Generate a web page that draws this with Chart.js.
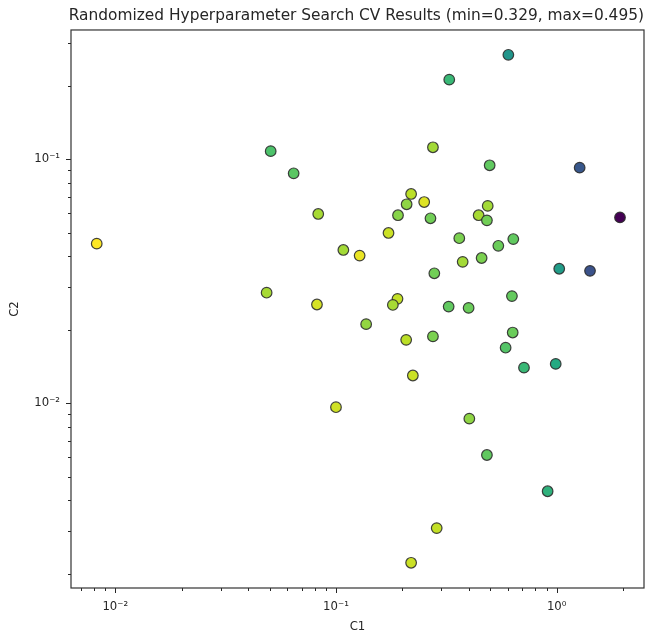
<!DOCTYPE html>
<html>
<head>
<meta charset="utf-8">
<title>Randomized Hyperparameter Search CV Results</title>
<script src="https://cdn.jsdelivr.net/npm/chart.js@4.4.1/dist/chart.umd.min.js"></script>
<style>
  html, body { margin: 0; padding: 0; background: #fff; }
  canvas { display: block; }
</style>
</head>
<body>
<canvas id="cv-chart" width="647" height="633"></canvas>
<script>
// sampled hyperparameters (log-uniform) and their mean CV score
const c1Values = [
  0.326, 0.604, 0.275, 0.497, 1.271, 0.0643, 0.0506, 0.0831, 0.219, 0.251,
  0.209, 0.191, 0.268, 0.487, 0.443, 0.483, 1.936, 0.173, 0.362, 0.636,
  0.544, 0.00824, 0.108, 0.128, 0.375, 0.457, 1.027, 1.416, 0.279, 0.0485,
  0.0820, 0.190, 0.181, 0.324, 0.399, 0.627, 0.137, 0.208, 0.275, 0.632,
  0.587, 0.711, 0.990, 0.223, 0.100, 0.402, 0.483, 0.910, 0.286, 0.219,
];
const c2Values = [
  0.212, 0.268, 0.112, 0.0945, 0.0924, 0.0876, 0.108, 0.0597, 0.0721, 0.0668,
  0.0654, 0.0590, 0.0573, 0.0644, 0.0590, 0.0562, 0.0578, 0.0499, 0.0475, 0.0471,
  0.0442, 0.0451, 0.0425, 0.0403, 0.0380, 0.0394, 0.0356, 0.0349, 0.0341, 0.0284,
  0.0254, 0.0268, 0.0253, 0.0249, 0.0246, 0.0275, 0.0211, 0.0182, 0.0188, 0.0195,
  0.0169, 0.0140, 0.0145, 0.0130, 0.00964, 0.00865, 0.00614, 0.00436, 0.00308, 0.00222,
];
const cvScores = [
  0.440, 0.415, 0.472, 0.454, 0.374, 0.452, 0.448, 0.473, 0.478, 0.487,
  0.467, 0.465, 0.459, 0.472, 0.473, 0.459, 0.329, 0.482, 0.462, 0.454,
  0.457, 0.495, 0.472, 0.490, 0.472, 0.462, 0.420, 0.371, 0.459, 0.473,
  0.485, 0.480, 0.473, 0.454, 0.457, 0.455, 0.468, 0.478, 0.462, 0.457,
  0.450, 0.440, 0.430, 0.482, 0.483, 0.467, 0.454, 0.435, 0.480, 0.482,
];
const scoreMin = 0.329;
const scoreMax = 0.495;

const xLimits = [0.0063, 2.487];
const yLimits = [0.00175, 0.3388];
const xTickValues = [0.01, 0.1, 1];
const xTickLabels = ["10⁻²", "10⁻¹", "10⁰"];
const yTickValues = [0.01, 0.1];
const yTickLabels = ["10⁻²", "10⁻¹"];

(function () {
  const FONT = "'DejaVu Sans', 'Liberation Sans', sans-serif";
  const INK = "#262626";

  const viridisStops = [
    "#440154", "#482475", "#414487", "#355f8d", "#2a788e", "#21918c",
    "#22a884", "#44bf70", "#7ad151", "#bddf26", "#fde725",
  ];

  function hexToRgb(h) {
    const n = parseInt(h.slice(1), 16);
    return [(n >> 16) & 255, (n >> 8) & 255, n & 255];
  }

  function viridis(t) {
    t = Math.min(1, Math.max(0, t));
    const pos = t * (viridisStops.length - 1);
    const i = Math.min(viridisStops.length - 2, Math.floor(pos));
    const f = pos - i;
    const a = hexToRgb(viridisStops[i]);
    const b = hexToRgb(viridisStops[i + 1]);
    const c = a.map((v, k) => Math.round(v + (b[k] - v) * f));
    return `rgb(${c[0]}, ${c[1]}, ${c[2]})`;
  }

  // 1..9 x 10^e inside the limits, like matplotlib's LogLocator with minor ticks
  function logTicks(min, max) {
    const ticks = [];
    for (let e = Math.floor(Math.log10(min)); e <= Math.ceil(Math.log10(max)); e++) {
      for (let k = 1; k <= 9; k++) {
        const v = parseFloat((k * Math.pow(10, e)).toPrecision(6));
        if (v >= min && v <= max) ticks.push({ value: v, major: k === 1 });
      }
    }
    return ticks;
  }

  function labelFor(values, labels, v) {
    const i = values.findIndex((t) => Math.abs(t - v) / t < 1e-6);
    return i >= 0 ? labels[i] : "";
  }

  function noScalePadding(scale) {
    scale.paddingLeft = 0;
    scale.paddingRight = 0;
    scale.paddingTop = 0;
    scale.paddingBottom = 0;
  }

  const points = c1Values.map((x, i) => ({ x, y: c2Values[i] }));
  const colors = cvScores.map((s) => viridis((s - scoreMin) / (scoreMax - scoreMin)));

  // matplotlib-style frame on all four sides plus major/minor tick marks
  const mplFrame = {
    id: "mplFrame",
    afterDatasetsDraw(chart) {
      const { ctx, chartArea: a, scales } = chart;
      ctx.save();
      ctx.strokeStyle = INK;
      ctx.lineWidth = 1;
      ctx.beginPath();
      scales.x.ticks.forEach((t) => {
        const px = Math.round(scales.x.getPixelForValue(t.value)) + 0.5;
        ctx.moveTo(px, a.bottom);
        ctx.lineTo(px, a.bottom + (t.major ? 5 : 3));
      });
      scales.y.ticks.forEach((t) => {
        const py = Math.round(scales.y.getPixelForValue(t.value)) + 0.5;
        ctx.moveTo(a.left, py);
        ctx.lineTo(a.left - (t.major ? 5 : 3), py);
      });
      ctx.stroke();
      ctx.lineWidth = 1.2;
      ctx.strokeStyle = "#333";
      ctx.strokeRect(a.left, a.top, a.right - a.left, a.bottom - a.top);
      ctx.restore();
    },
  };

  new Chart(document.getElementById("cv-chart").getContext("2d"), {
    type: "scatter",
    data: {
      datasets: [{
        data: points,
        backgroundColor: colors,
        borderColor: "rgba(45, 45, 45, 0.9)",
        borderWidth: 1.2,
        pointRadius: 5.3,
        pointHoverRadius: 5.3,
      }],
    },
    options: {
      responsive: false,
      animation: false,
      devicePixelRatio: 1,
      layout: { autoPadding: false, padding: { top: 0, right: 3, bottom: 0, left: 0 } },
      plugins: {
        legend: { display: false },
        tooltip: { enabled: false },
        title: {
          display: true,
          text: `Randomized Hyperparameter Search CV Results (min=${scoreMin.toFixed(3)}, max=${scoreMax.toFixed(3)})`,
          align: "end",
          color: INK,
          font: { family: FONT, size: 15.4, weight: "normal", lineHeight: 1.2 },
          padding: { top: 6.9, bottom: 4.6 },
        },
      },
      scales: {
        x: {
          type: "logarithmic",
          position: "bottom",
          min: xLimits[0],
          max: xLimits[1],
          afterBuildTicks: (scale) => { scale.ticks = logTicks(xLimits[0], xLimits[1]); },
          afterFit: (scale) => { scale.height = 45; noScalePadding(scale); },
          grid: { display: false, drawTicks: false },
          border: { display: false },
          ticks: {
            autoSkip: false,
            maxRotation: 0,
            minRotation: 0,
            padding: 12,
            color: INK,
            font: { family: FONT, size: 11.7 },
            callback: (v) => labelFor(xTickValues, xTickLabels, v),
          },
          title: {
            display: true,
            text: "C1",
            color: INK,
            font: { family: FONT, size: 11.7, lineHeight: 1 },
            padding: { top: 0, bottom: 0 },
          },
        },
        y: {
          type: "logarithmic",
          position: "left",
          min: yLimits[0],
          max: yLimits[1],
          afterBuildTicks: (scale) => { scale.ticks = logTicks(yLimits[0], yLimits[1]); },
          afterFit: (scale) => { scale.width = 71; noScalePadding(scale); },
          grid: { display: false, drawTicks: false },
          border: { display: false },
          ticks: {
            autoSkip: false,
            padding: 11,
            color: INK,
            font: { family: FONT, size: 11.7 },
            callback: (v) => labelFor(yTickValues, yTickLabels, v),
          },
          title: {
            display: true,
            text: "C2",
            color: INK,
            font: { family: FONT, size: 11.7, lineHeight: 1.2 },
            padding: { top: 7.6, bottom: 0 },
          },
        },
      },
    },
    plugins: [mplFrame],
  });
})();
</script>
</body>
</html>
